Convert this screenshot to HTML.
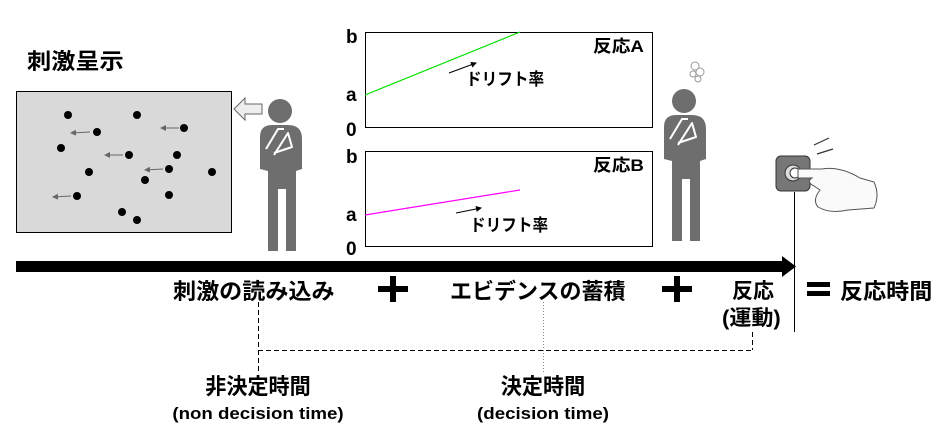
<!DOCTYPE html>
<html><head><meta charset="utf-8"><style>
html,body{margin:0;padding:0;background:#fff;}
svg{display:block;}
text{font-family:"Liberation Sans","Noto Sans CJK JP",sans-serif;font-weight:bold;fill:#000;}
</style></head><body>
<svg width="952" height="447" viewBox="0 0 952 447" xmlns="http://www.w3.org/2000/svg">
<defs>
<marker id="ah" markerWidth="6" markerHeight="6" refX="5" refY="3" orient="auto"><path d="M0,0 L6,3 L0,6 z" fill="#000"/></marker>
<marker id="ahg" markerWidth="6" markerHeight="6" refX="5" refY="3" orient="auto"><path d="M0,0 L6,3 L0,6 z" fill="#666"/></marker>
<g id="person">
<circle cx="0" cy="0" r="12" fill="#6e6e6e"/>
<path d="M-20,26 Q-20,14 -8,14 L8,14 Q22,14 22,28 L22,58 L16,60 L16,140 L6,140 L6,78 L-2,78 L-2,140 L-12,140 L-12,60 L-20,58 Z" fill="#6e6e6e"/>
<path d="M-14,38 L-2,18 L4,18 M-6,44 L8,22 L12,36 L-6,42" fill="none" stroke="#fff" stroke-width="2" stroke-linejoin="round"/>
</g>
</defs>

<text transform="translate(27,69) scale(1.1,1)" font-size="22">刺激呈示</text>
<rect x="16.5" y="91.5" width="215" height="141" fill="#d9d9d9" stroke="#000" stroke-width="1"/>
<g fill="#000">
<circle cx="68" cy="115" r="4"/><circle cx="137" cy="115" r="4"/><circle cx="97" cy="132" r="4"/>
<circle cx="184" cy="128" r="4"/><circle cx="61" cy="148" r="4"/><circle cx="129" cy="155" r="4"/>
<circle cx="177" cy="155" r="4"/><circle cx="89" cy="172" r="4"/><circle cx="169" cy="169" r="4"/>
<circle cx="145" cy="180" r="4"/><circle cx="212" cy="172" r="4"/><circle cx="77" cy="196" r="4"/>
<circle cx="169" cy="195" r="4"/><circle cx="122" cy="212" r="4"/><circle cx="137" cy="220" r="4"/>
</g>
<g stroke="#666" stroke-width="1" marker-end="url(#ahg)">
<line x1="90" y1="132" x2="71" y2="133"/><line x1="179" y1="128" x2="161" y2="128"/>
<line x1="123" y1="155" x2="105" y2="155"/><line x1="163" y1="169" x2="145" y2="170"/>
<line x1="71" y1="196" x2="53" y2="197"/>
</g>
<path d="M234,109 L245,98 L245,104 L262,104 L262,114 L245,114 L245,120 Z" fill="#eee" stroke="#666"/>

<use href="#person" x="280" y="111"/>
<use href="#person" x="684" y="101"/>
<g fill="none" stroke="#999" stroke-width="1"><circle cx="695" cy="66" r="4"/><circle cx="700" cy="72" r="4"/><circle cx="693" cy="74" r="3"/><circle cx="698" cy="79" r="3"/></g>

<!-- Graph A -->
<rect x="365.5" y="32.5" width="287" height="95" fill="#fff" stroke="#000"/>
<line x1="365" y1="95" x2="520" y2="32" stroke="#00e000" stroke-width="1.2"/>
<line x1="449" y1="73" x2="476" y2="63" stroke="#000" marker-end="url(#ah)"/>
<text transform="translate(466,85) scale(0.92,1)" font-size="17">ドリフト率</text>
<text transform="translate(593,52) scale(1.1,1)" font-size="17">反応A</text>
<text x="346" y="43" font-size="19">b</text><text x="346" y="101" font-size="19">a</text><text x="346" y="136" font-size="19">0</text>
<!-- Graph B -->
<rect x="365.5" y="151.5" width="287" height="95" fill="#fff" stroke="#000"/>
<line x1="365" y1="215" x2="520" y2="190" stroke="#ff00ff" stroke-width="1.2"/>
<line x1="456" y1="213" x2="481" y2="208" stroke="#000" marker-end="url(#ah)"/>
<text transform="translate(470,231) scale(0.92,1)" font-size="17">ドリフト率</text>
<text transform="translate(593,171) scale(1.1,1)" font-size="17">反応B</text>
<text x="346" y="163" font-size="19">b</text><text x="346" y="221" font-size="19">a</text><text x="346" y="255" font-size="19">0</text>

<!-- timeline -->
<rect x="16" y="261" width="768" height="11" fill="#000"/>
<path d="M782,256 L796,266.5 L782,277 Z" fill="#000"/>
<line x1="794.5" y1="192" x2="794.5" y2="332" stroke="#000"/>
<rect x="776" y="156" width="34" height="35" rx="5" fill="#777" stroke="#333"/>
<circle cx="793" cy="173" r="8" fill="#ddd" stroke="#333"/><circle cx="795" cy="173" r="5" fill="#fff" stroke="#333"/>
<path d="M798,169 L822,169 Q840,166 860,178 L874,182 Q880,195 874,208 L848,210 Q830,214 818,207 Q812,200 820,190 L814,186 Q806,182 812,178 L798,178 Z" fill="#fafafa" stroke="#555"/>
<path d="M814,145 L829,138 M817,154 L833,149" stroke="#333" stroke-width="1.2"/>

<!-- labels -->
<text transform="translate(173,299) scale(1.05,1)" font-size="22">刺激の読み込み</text>
<text transform="translate(450,299) scale(1.0,1)" font-size="22">エビデンスの蓄積</text>
<rect x="378" y="286" width="30" height="6" fill="#000"/><rect x="390" y="276" width="6" height="26" fill="#000"/>
<rect x="662" y="286" width="30" height="6" fill="#000"/><rect x="674" y="276" width="6" height="26" fill="#000"/>
<text transform="translate(732,298) scale(1.0,1)" font-size="21">反応</text>
<text transform="translate(722,325) scale(1.05,1)" font-size="21">(運動)</text>
<rect x="807" y="282" width="23" height="5" fill="#000"/><rect x="807" y="291" width="23" height="5" fill="#000"/>
<text transform="translate(840,299) scale(1.05,1)" font-size="22">反応時間</text>

<g stroke="#000" stroke-width="1" stroke-dasharray="5,3" fill="none">
<line x1="258.5" y1="302" x2="258.5" y2="374"/>
<line x1="258" y1="350.5" x2="752" y2="350.5"/>
<line x1="752.5" y1="332" x2="752.5" y2="350"/>
</g>
<line x1="543.5" y1="302" x2="543.5" y2="374" stroke="#888" stroke-dasharray="1,2"/>

<text transform="translate(258,394) scale(0.96,1)" font-size="22" text-anchor="middle">非決定時間</text>
<text transform="translate(258,419) scale(1.1,1)" font-size="17" text-anchor="middle">(non decision time)</text>
<text transform="translate(543,394) scale(0.96,1)" font-size="22" text-anchor="middle">決定時間</text>
<text transform="translate(543,419) scale(1.1,1)" font-size="17" text-anchor="middle">(decision time)</text>
</svg>
</body></html>
